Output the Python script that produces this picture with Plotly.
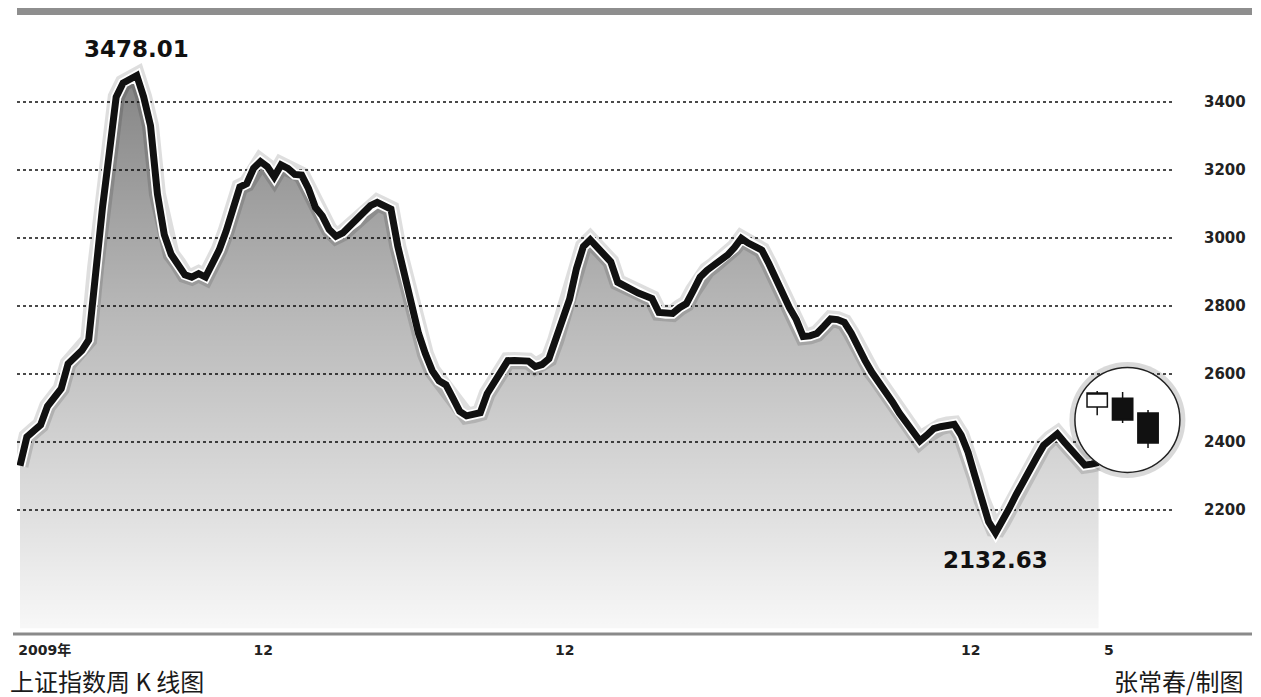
import plotly.graph_objects as go

# ---------------- data ----------------
WEEKS = list(range(158))
INDEX = [
    2330, 2415, 2433, 2450, 2505, 2535, 2557, 2630, 2650, 2669,
    2700, 2913, 3088, 3250, 3415, 3456, 3470, 3478.01, 3415, 3330,
    3130, 3010, 2952, 2925, 2892, 2885, 2895, 2885, 2920, 2965,
    3020, 3085, 3150, 3160, 3205, 3225, 3210, 3180, 3215, 3205,
    3187, 3185, 3145, 3090, 3065, 3025, 3005, 3015, 3035, 3050,
    3075, 3095, 3105, 3095, 3085, 2975, 2890, 2800, 2720, 2660,
    2610, 2580, 2568, 2530, 2490, 2477, 2480, 2486, 2542, 2575,
    2610, 2639, 2640, 2640, 2638, 2622, 2628, 2645, 2700, 2765,
    2820, 2910, 2975, 2995, 2975, 2955, 2930, 2870, 2858, 2848,
    2838, 2830, 2822, 2781, 2778, 2778, 2795, 2807, 2845, 2885,
    2905, 2920, 2935, 2950, 2972, 2999, 2985, 2975, 2964, 2925,
    2880, 2835, 2795, 2760, 2710, 2712, 2719, 2740, 2762, 2760,
    2752, 2720, 2675, 2640, 2605, 2578, 2550, 2518, 2485, 2460,
    2430, 2403, 2420, 2439, 2445, 2450, 2452, 2420, 2370, 2300,
    2230, 2165, 2132.63, 2165, 2205, 2245, 2285, 2315, 2355, 2390,
    2410, 2424, 2400, 2378, 2355, 2332, 2335, 2340,
]
Y_TICKS = [2200, 2400, 2600, 2800, 3000, 3200, 3400]
X_TICK_POS = [3.6, 35.4, 79.3, 138.4, 158.5]
X_TICK_TEXT = ["2009年", "12", "12", "12", "5"]
PEAK_LABEL = "3478.01"
LOW_LABEL = "2132.63"
FILL_BASE = 1852

CANDLE_X = [156.8, 160.5, 164.2]
CANDLE_OPEN = [2503, 2529, 2485]
CANDLE_HIGH = [2550, 2547, 2494]
CANDLE_LOW = [2479, 2456, 2382]
CANDLE_CLOSE = [2544, 2465, 2397]
CIRCLE_X = [161.2]
CIRCLE_Y = [2465]

TITLE_LEFT = "上证指数周 K 线图"
TITLE_RIGHT = "张常春/制图"

# ---------------- layout constants ----------------
W, H = 1261, 697
ML, MR, MT, MB = 17, 89, 15, 63
PW = W - ML - MR
PH = H - MT - MB
X_RANGE = [-0.437, 167.69]
Y_RANGE = [1835.3, 3655.9]

peak_i = INDEX.index(max(INDEX))
low_i = INDEX.index(min(INDEX))

fig = go.Figure()

# fill base (invisible)
fig.add_trace(go.Scatter(x=WEEKS, y=[FILL_BASE] * len(WEEKS), mode="lines",
                         line=dict(width=0), hoverinfo="skip", showlegend=False))
# gradient fill
fig.add_trace(go.Scatter(
    x=WEEKS, y=INDEX, mode="lines", line=dict(width=0), fill="tonexty",
    fillgradient=dict(type="vertical", start=FILL_BASE, stop=max(INDEX),
                      colorscale=[[0, "rgba(0,0,0,0.03)"], [0.22, "rgba(0,0,0,0.13)"],
                                  [0.55, "rgba(0,0,0,0.27)"], [1, "rgba(0,0,0,0.48)"]]),
    hoverinfo="skip", showlegend=False))
# shadow, halo, line
fig.add_trace(go.Scatter(x=WEEKS, y=INDEX, mode="lines",
                         line=dict(color="rgba(0,0,0,0.13)", width=17),
                         hoverinfo="skip", showlegend=False))
fig.add_trace(go.Scatter(x=WEEKS, y=INDEX, mode="lines",
                         line=dict(color="white", width=10.5),
                         hoverinfo="skip", showlegend=False))
fig.add_trace(go.Scatter(x=WEEKS, y=INDEX, mode="lines",
                         line=dict(color="#111111", width=7),
                         showlegend=False))

# circle badge (overlay subplot 2, drawn above the line)
fig.add_trace(go.Scatter(x=CIRCLE_X, y=CIRCLE_Y, mode="markers", xaxis="x2", yaxis="y2",
                         marker=dict(size=116, color="rgba(0,0,0,0.15)", line=dict(width=0)),
                         cliponaxis=False, hoverinfo="skip", showlegend=False))
fig.add_trace(go.Scatter(x=CIRCLE_X, y=CIRCLE_Y, mode="markers", xaxis="x2", yaxis="y2",
                         marker=dict(size=105, color="white", line=dict(color="#222222", width=1.5)),
                         cliponaxis=False, hoverinfo="skip", showlegend=False))
# candles (overlay subplot 3, above the circle)
fig.add_trace(go.Candlestick(
    x=CANDLE_X, open=CANDLE_OPEN, high=CANDLE_HIGH, low=CANDLE_LOW, close=CANDLE_CLOSE,
    xaxis="x3", yaxis="y3",
    increasing=dict(line=dict(color="#111111", width=1.5), fillcolor="white"),
    decreasing=dict(line=dict(color="#111111", width=1.5), fillcolor="#111111"),
    whiskerwidth=0, showlegend=False))

tick_font = dict(family="DejaVu Sans, Noto Sans CJK SC", size=15, color="#222222", weight="bold")
hidden_x = dict(range=X_RANGE, visible=False, fixedrange=True, rangeslider=dict(visible=False))
hidden_y = dict(range=Y_RANGE, visible=False, fixedrange=True)

fig.update_layout(
    width=W, height=H,
    margin=dict(l=ML, r=MR, t=MT, b=MB),
    paper_bgcolor="white", plot_bgcolor="white",
    showlegend=False,
    boxgap=0.2, boxgroupgap=0,
    xaxis=dict(range=X_RANGE, showgrid=False, zeroline=False, showline=False,
               tickmode="array", tickvals=X_TICK_POS, ticktext=X_TICK_TEXT,
               ticks="", tickfont=dict(family="DejaVu Sans, Noto Sans CJK SC", size=14,
                                       color="#222222", weight="bold"),
               ticklabelstandoff=6, rangeslider=dict(visible=False), fixedrange=True),
    yaxis=dict(range=Y_RANGE, side="right", tickmode="array", tickvals=Y_TICKS,
               ticks="", tickfont=tick_font, ticklabelstandoff=31,
               showgrid=True, gridcolor="#4a4a4a", gridwidth=1.5, griddash="dot",
               zeroline=False, showline=False, fixedrange=True),
    xaxis2=dict(hidden_x, overlaying="x"),
    yaxis2=dict(hidden_y, overlaying="y"),
    xaxis3=dict(hidden_x, overlaying="x"),
    yaxis3=dict(hidden_y, overlaying="y"),
)

# top bar and bottom axis line
fig.add_shape(type="rect", xref="paper", yref="paper",
              x0=0, x1=(1252 - ML) / PW, y0=1.0, y1=1 + 7 / PH,
              fillcolor="#8e8e8e", line=dict(width=0))
fig.add_shape(type="line", xref="paper", yref="paper",
              x0=(13 - ML) / PW, x1=(1252 - ML) / PW, y0=0, y1=0,
              line=dict(color="#8a8a8a", width=3))

label_font = dict(family="DejaVu Sans", size=23, color="#111111", weight="bold")
fig.add_annotation(x=WEEKS[peak_i], y=INDEX[peak_i], text=PEAK_LABEL, showarrow=False,
                   yanchor="middle", yshift=26, font=label_font)
fig.add_annotation(x=WEEKS[low_i], y=INDEX[low_i], text=LOW_LABEL, showarrow=False,
                   yanchor="middle", yshift=-27, font=label_font)

cap_font = dict(family="Noto Sans CJK SC", size=24, color="#1a1a1a")
fig.add_annotation(xref="paper", yref="paper", x=(8 - ML) / PW, y=-(680 - (H - MB)) / PH,
                   xanchor="left", yanchor="middle", text=TITLE_LEFT, showarrow=False, font=cap_font)
fig.add_annotation(xref="paper", yref="paper", x=(1245 - ML) / PW, y=-(680 - (H - MB)) / PH,
                   xanchor="right", yanchor="middle", text=TITLE_RIGHT, showarrow=False, font=cap_font)

fig.write_html("out.html", config=dict(displayModeBar=False))
